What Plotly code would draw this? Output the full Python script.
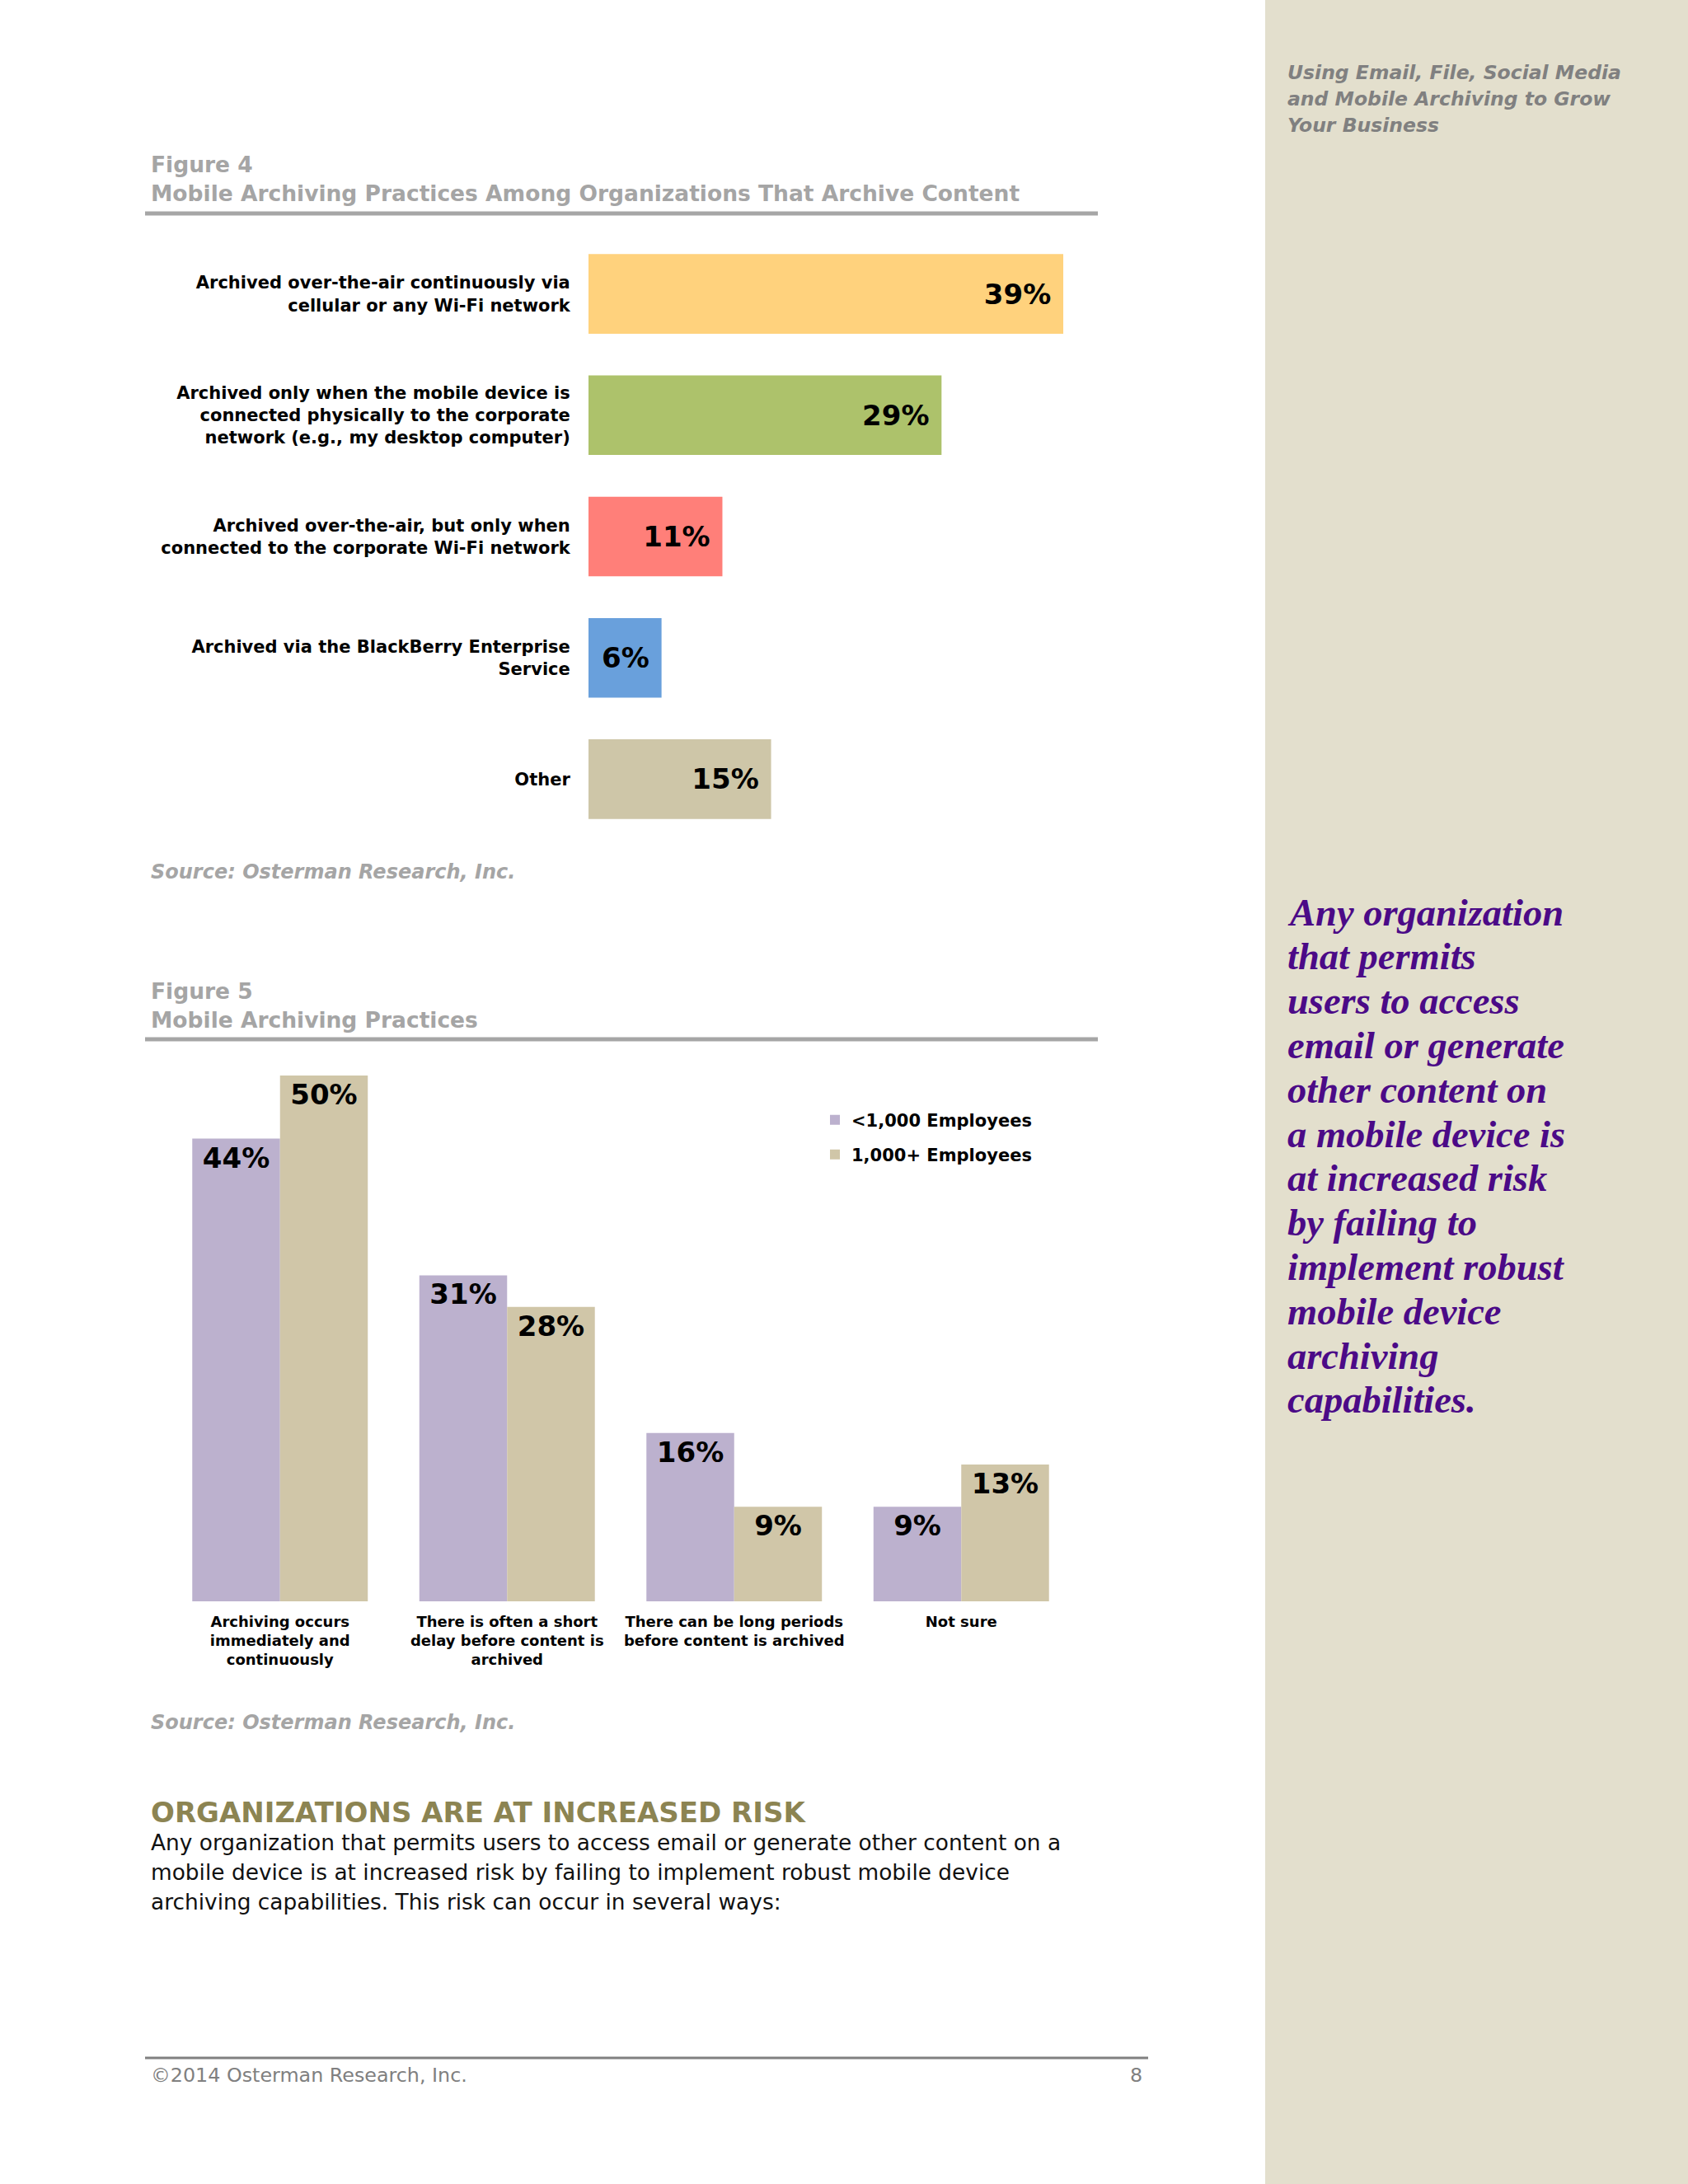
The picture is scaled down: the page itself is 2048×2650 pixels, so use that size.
import plotly.graph_objects as go

# ---------------- data ----------------
fig4_categories = [
    "Archived over-the-air continuously via<br>cellular or any Wi-Fi network",
    "Archived only when the mobile device is<br>connected physically to the corporate<br>network (e.g., my desktop computer)",
    "Archived over-the-air, but only when<br>connected to the corporate Wi-Fi network",
    "Archived via the BlackBerry Enterprise<br>Service",
    "Other",
]
fig4_values = [39, 29, 11, 6, 15]
fig4_colors = ["#FFD27D", "#ADC26B", "#FF7F79", "#69A0DC", "#CEC6A8"]

fig5_categories = [
    "Archiving occurs<br>immediately and<br>continuously",
    "There is often a short<br>delay before content is<br>archived",
    "There can be long periods<br>before content is archived",
    "Not sure",
]
fig5_small = [44, 31, 16, 9]
fig5_large = [50, 28, 9, 13]
fig5_series_names = ["<1,000 Employees", "1,000+ Employees"]

quote_lines = [
    "Any organization", "that permits", "users to access", "email or generate",
    "other content on", "a mobile device is", "at increased risk", "by failing to",
    "implement robust", "mobile device", "archiving", "capabilities.",
]
sidebar_title_lines = [
    "Using Email, File, Social Media",
    "and Mobile Archiving to Grow",
    "Your Business",
]
body_lines = [
    "Any organization that permits users to access email or generate other content on a",
    "mobile device is at increased risk by failing to implement robust mobile device",
    "archiving capabilities. This risk can occur in several ways:",
]

W, H = 2048, 2650
def px(x):
    return x / W
def py(y):
    return 1 - y / H

SANS = "DejaVu Sans, Verdana, sans-serif"
SERIF = "Liberation Serif, Times New Roman, serif"

fig = go.Figure()

# ---------------- Figure 4 ----------------
fig.add_trace(go.Bar(
    x=fig4_values, y=fig4_categories, orientation="h",
    marker=dict(color=fig4_colors, line=dict(width=0)),
    width=0.656,
    text=[f"{v}%\u00a0" for v in fig4_values],
    textposition="inside", insidetextanchor="end",
    textfont=dict(family=SANS, size=34, color="#000000", weight="bold"),
    showlegend=False, xaxis="x", yaxis="y", hoverinfo="skip",
))

# ---------------- Figure 5 ----------------
fig.add_trace(go.Bar(
    x=fig5_categories, y=fig5_small, name=fig5_series_names[0],
    marker=dict(color="#BCB1CE", line=dict(width=0)),
    text=[f"{v}%" for v in fig5_small],
    textposition="inside", insidetextanchor="end",
    textfont=dict(family=SANS, size=34, color="#000000", weight="bold"),
    xaxis="x2", yaxis="y2", hoverinfo="skip", legend="legend",
))
fig.add_trace(go.Bar(
    x=fig5_categories, y=fig5_large, name=fig5_series_names[1],
    marker=dict(color="#D0C6A8", line=dict(width=0)),
    text=[f"{v}%" for v in fig5_large],
    textposition="inside", insidetextanchor="end",
    textfont=dict(family=SANS, size=34, color="#000000", weight="bold"),
    xaxis="x2", yaxis="y2", hoverinfo="skip", legend="legend2",
))

# axes geometry
x4_left, x4_right, x4_scale = 714, 1332, 14.77
y4_top, y4_bottom = 283, 1019
x5_left, x5_right = 202, 1304
y5_top, y5_base, y5_scale = 1290, 1943, 12.76

annotations = []
shapes = []

# sidebar
shapes.append(dict(type="rect", xref="paper", yref="paper", x0=px(1535), x1=1, y0=0, y1=1,
                   fillcolor="#E3DFCD", line=dict(width=0), layer="below"))

for i, t in enumerate(sidebar_title_lines):
    annotations.append(dict(text=f"<b><i>{t}</i></b>", x=px(1560), y=py(88 + 32 * i),
                            xref="paper", yref="paper", xanchor="left", yanchor="middle",
                            showarrow=False, font=dict(family=SANS, size=23.5, color="#808080")))

for i, t in enumerate(quote_lines):
    annotations.append(dict(text=f"<b><i>{t}</i></b>", x=px(1560), y=py(1107 + 53.8 * i),
                            xref="paper", yref="paper", xanchor="left", yanchor="middle",
                            showarrow=False, font=dict(family=SERIF, size=46.5, color="#4B0A87")))

def left_text(text, y, size, color, bold=False, italic=False, x=181, family=SANS):
    s = text
    if italic:
        s = f"<i>{s}</i>"
    if bold:
        s = f"<b>{s}</b>"
    annotations.append(dict(text=s, x=px(x), y=py(y), xref="paper", yref="paper",
                            xanchor="left", yanchor="middle", showarrow=False,
                            font=dict(family=family, size=size, color=color)))

# Figure 4 titles
left_text("Figure 4", 200, 26.5, "#A5A5A5", bold=True)
left_text("Mobile Archiving Practices Among Organizations That Archive Content", 235, 26.5, "#A5A5A5", bold=True)
shapes.append(dict(type="line", xref="paper", yref="paper", x0=px(176), x1=px(1332), y0=py(259), y1=py(259),
                   line=dict(color="#A6A6A6", width=5)))
left_text("Source: Osterman Research, Inc.", 1058, 24, "#A5A5A5", bold=True, italic=True)

# Figure 5 titles
left_text("Figure 5", 1202, 26.5, "#A5A5A5", bold=True)
left_text("Mobile Archiving Practices", 1237, 26.5, "#A5A5A5", bold=True)
shapes.append(dict(type="line", xref="paper", yref="paper", x0=px(176), x1=px(1332), y0=py(1261), y1=py(1261),
                   line=dict(color="#A6A6A6", width=5)))
left_text("Source: Osterman Research, Inc.", 2090, 24, "#A5A5A5", bold=True, italic=True)

# Heading + body
left_text("ORGANIZATIONS ARE AT INCREASED RISK", 2199, 34, "#8C8452", bold=True)
for i, t in enumerate(body_lines):
    left_text(t, 2235 + 36 * i, 26.4, "#111111")

# Footer
shapes.append(dict(type="line", xref="paper", yref="paper", x0=px(176), x1=px(1393), y0=py(2497), y1=py(2497),
                   line=dict(color="#808080", width=3)))
left_text("©2014 Osterman Research, Inc.", 2518, 23.8, "#808080")
annotations.append(dict(text="8", x=px(1388), y=py(2518), xref="paper", yref="paper",
                        xanchor="right", yanchor="middle", showarrow=False,
                        font=dict(family=SANS, size=23.8, color="#808080")))

legend_font = dict(family=SANS, size=21, color="#000000", weight="bold")
fig.update_layout(
    width=W, height=H,
    margin=dict(l=0, r=0, t=0, b=0),
    paper_bgcolor="#FFFFFF", plot_bgcolor="rgba(0,0,0,0)",
    barmode="group", bargap=0.227, bargroupgap=0,
    uniformtext=dict(mode=False),
    xaxis=dict(domain=[px(x4_left), px(x4_right)],
               range=[0, (x4_right - x4_left) / x4_scale],
               visible=False, fixedrange=True),
    yaxis=dict(domain=[py(y4_bottom), py(y4_top)], anchor="x",
               autorange="reversed", showgrid=False, zeroline=False, showline=False,
               ticks="outside", ticklen=17, tickcolor="rgba(0,0,0,0)",
               tickfont=dict(family=SANS, size=21, color="#000000", weight="bold")),
    xaxis2=dict(domain=[px(x5_left), px(x5_right)], anchor="y2",
                showgrid=False, zeroline=False, showline=False,
                ticks="outside", ticklen=8, tickcolor="rgba(0,0,0,0)",
                tickfont=dict(family=SANS, size=18, color="#000000", weight="bold")),
    yaxis2=dict(domain=[py(y5_base), py(y5_top)], anchor="x2",
                range=[0, (y5_base - y5_top) / y5_scale], visible=False),
    legend=dict(x=px(993), y=py(1359), xanchor="left", yanchor="middle",
                font=legend_font, bgcolor="rgba(0,0,0,0)", itemwidth=30),
    legend2=dict(x=px(993), y=py(1401), xanchor="left", yanchor="middle",
                 font=legend_font, bgcolor="rgba(0,0,0,0)", itemwidth=30),
    annotations=annotations,
    shapes=shapes,
)

fig.write_html("out.html", config={"displayModeBar": False},
               post_script="document.body.style.margin='0px';")
